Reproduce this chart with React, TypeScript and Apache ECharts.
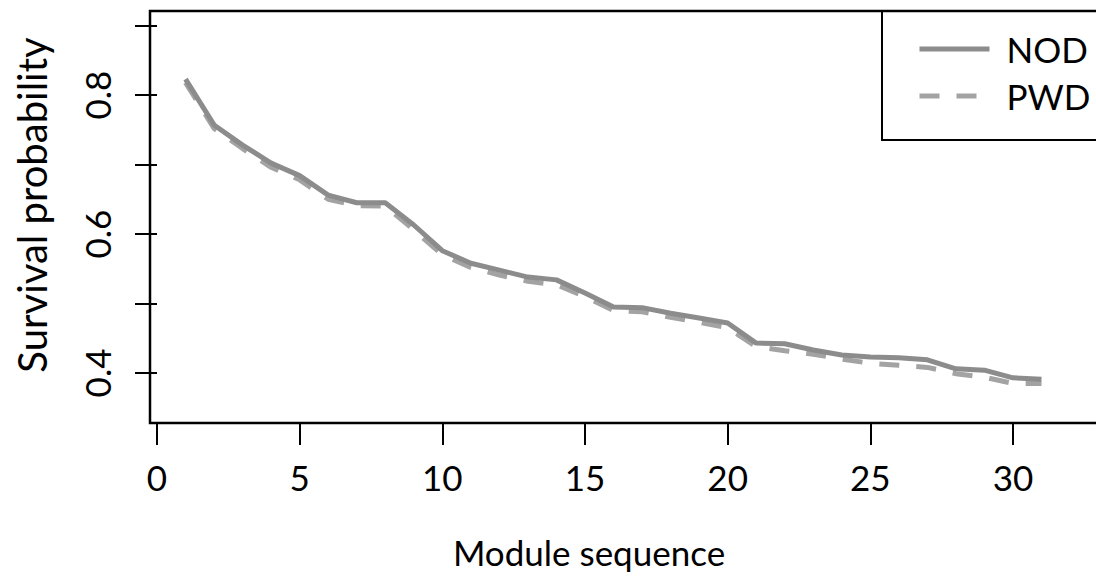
import React, { useEffect, useRef } from "react";
import * as echarts from "echarts";

const moduleSeq = [1, 2, 3, 4, 5, 6, 7, 8, 9, 10, 11, 12, 13, 14, 15, 16, 17, 18, 19, 20, 21, 22, 23, 24, 25, 26, 27, 28, 29, 30, 31];
const nodValues = [0.823, 0.757, 0.728, 0.702, 0.684, 0.656, 0.645, 0.645, 0.613, 0.576, 0.558, 0.548, 0.538, 0.534, 0.515, 0.495, 0.494, 0.486, 0.479, 0.472, 0.443, 0.442, 0.433, 0.426, 0.423, 0.422, 0.419, 0.406, 0.404, 0.393, 0.391];
const pwdValues = [0.818, 0.752, 0.723, 0.696, 0.678, 0.650, 0.641, 0.640, 0.606, 0.570, 0.552, 0.541, 0.532, 0.527, 0.510, 0.490, 0.488, 0.480, 0.473, 0.465, 0.438, 0.432, 0.427, 0.420, 0.414, 0.411, 0.408, 0.399, 0.394, 0.385, 0.385];
const xTicks = [0, 5, 10, 15, 20, 25, 30];
const yTicks = [0.4, 0.5, 0.6, 0.7, 0.8, 0.9];
const yLabels = [0.4, 0.6, 0.8];
const seriesNames = ["NOD", "PWD"];

const FONT = "Lato";

export default function App() {
  const ref = useRef<HTMLDivElement>(null);
  useEffect(() => {
    if (!ref.current) return;
    const chart = echarts.init(ref.current, null, { renderer: "svg" });
    chart.setOption({
      animation: false,
      backgroundColor: "#fff",
      grid: {
        left: 150,
        top: 11,
        width: 946,
        height: 412,
        show: false,
      },
      xAxis: {
        type: "value",
        min: -0.245,
        max: 32.91,
        axisLine: { show: false },
        splitLine: { show: false },
        axisTick: {
          show: true,
          customValues: xTicks,
          length: 22,
          inside: false,
          lineStyle: { color: "#000", width: 2 },
        },
        axisLabel: {
          customValues: xTicks,
          margin: 36,
          fontSize: 35,
          fontFamily: FONT,
          color: "#000",
        },
      },
      yAxis: {
        type: "value",
        min: 0.328,
        max: 0.921,
        axisLine: { show: false },
        splitLine: { show: false },
        axisTick: {
          show: true,
          customValues: yTicks,
          length: 22,
          inside: false,
          lineStyle: { color: "#000", width: 2 },
        },
        axisLabel: {
          customValues: yLabels,
          rotate: 90,
          margin: 36,
          fontSize: 35,
          fontFamily: FONT,
          color: "#000",
          formatter: (v: number) => v.toFixed(1),
        },
      },
      legend: {
        orient: "vertical",
        left: 912,
        top: 26,
        itemWidth: 70,
        itemHeight: 14,
        itemGap: 11,
        data: seriesNames,
        itemStyle: { opacity: 0 },
        lineStyle: { width: 5 },
        textStyle: {
          fontSize: 35,
          fontFamily: FONT,
          color: "#000",
          lineHeight: 36,
          padding: [0, 0, 0, 12],
        },
      },
      graphic: [
        {
          type: "rect",
          shape: { x: 882, y: 11, width: 300, height: 129 },
          style: { fill: "#fff", stroke: "#000", lineWidth: 2 },
        },
        {
          type: "polyline",
          shape: { points: [[1110, 11], [150, 11], [150, 423], [1110, 423]] },
          style: { fill: "none", stroke: "#000", lineWidth: 2.5 },
        },
        {
          type: "text",
          x: 589,
          y: 552,
          style: {
            text: "Module sequence",
            fontSize: 35,
            fontFamily: FONT,
            fill: "#000",
            textAlign: "center",
            textVerticalAlign: "middle",
          },
        },
        {
          type: "text",
          x: 32,
          y: 205,
          rotation: Math.PI / 2,
          style: {
            text: "Survival probability",
            fontSize: 40,
            fontFamily: FONT,
            fill: "#000",
            textAlign: "center",
            textVerticalAlign: "middle",
          },
        },
      ],
      series: [
        {
          name: seriesNames[0],
          type: "line",
          data: moduleSeq.map((x, i) => [x, nodValues[i]]),
          symbol: "none",
          lineStyle: { color: "#8c8c8c", width: 5 },
          itemStyle: { color: "#8c8c8c" },
          z: 3,
        },
        {
          name: seriesNames[1],
          type: "line",
          data: moduleSeq.map((x, i) => [x, pwdValues[i]]),
          symbol: "none",
          lineStyle: { color: "#a3a3a3", width: 5, type: [20, 17] },
          itemStyle: { color: "#a3a3a3" },
          z: 2,
        },
      ],
    });
    return () => chart.dispose();
  }, []);
  return (
    <div
      ref={ref}
      style={{ position: "fixed", left: 0, top: 0, width: 1096, height: 578 }}
    />
  );
}
